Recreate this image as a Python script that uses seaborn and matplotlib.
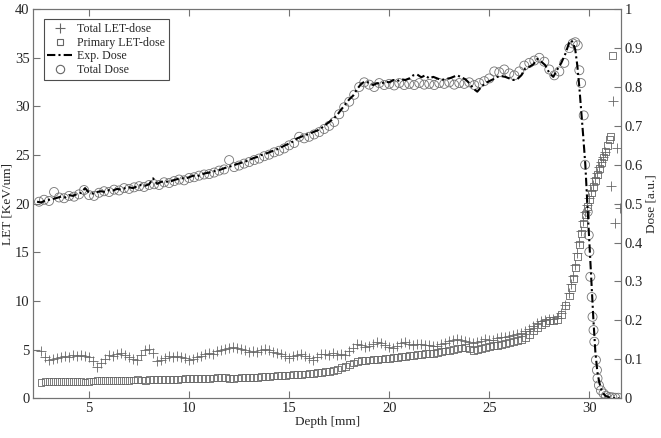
import numpy as np
import pandas as pd
import seaborn as sns
import matplotlib.pyplot as plt
from matplotlib.lines import Line2D

# LET data, depth bins of 0.2 mm, then the distal tail
let_depth = np.round(np.arange(2.6, 29.01, 0.2), 2)
let_total = [4.8, 4.2, 3.9, 4.0, 4.1, 4.2, 4.3, 4.2, 4.4, 4.3, 4.4, 4.3, 4.2, 3.8, 3.2, 3.6,
             4.0, 4.4, 4.3, 4.5, 4.6, 4.4, 4.2, 4.0, 3.9, 4.4, 4.9, 5.1, 4.6, 3.8, 3.9, 4.1,
             4.3, 4.2, 4.3, 4.2, 4.1, 3.9, 4.0, 4.2, 4.3, 4.5, 4.6, 4.5, 4.8, 5.0, 5.1, 5.2,
             5.3, 5.2, 5.1, 4.9, 4.7, 4.8, 4.7, 4.9, 5.1, 5.0, 4.7, 4.6, 4.5, 4.3, 4.1, 4.3,
             4.4, 4.5, 4.3, 4.1, 3.9, 4.2, 4.5, 4.5, 4.4, 4.6, 4.4, 4.5, 4.4, 4.8, 5.2, 5.6,
             5.5, 5.3, 5.4, 5.6, 5.8, 5.7, 5.5, 5.3, 5.2, 5.4, 5.7, 5.8, 5.6, 5.5, 5.6, 5.6,
             5.5, 5.5, 5.4, 5.4, 5.6, 5.7, 5.9, 6.0, 6.1, 6.0, 5.9, 5.8, 5.7, 5.8, 5.9, 6.1,
             6.0, 6.0, 6.2, 6.3, 6.3, 6.4, 6.5, 6.6, 6.7, 6.9, 7.1, 7.4, 7.7, 7.9, 8.0, 8.1,
             8.1, 8.2, 8.8, 9.6, 10.8]
let_primary = [1.65, 1.70, 1.72, 1.70, 1.72, 1.74, 1.72, 1.73, 1.75, 1.72, 1.68, 1.66, 1.72,
               1.76, 1.78, 1.80, 1.78, 1.82, 1.84, 1.82, 1.83, 1.85, 1.84, 1.86, 1.88, 1.87,
               1.85, 1.88, 1.90, 1.88, 1.92, 1.93, 1.95, 1.93, 1.94, 1.97, 2.02, 2.05, 2.02,
               1.98, 2.00, 2.03, 2.05, 2.08, 2.10, 2.12, 2.10, 2.06, 2.04, 2.07, 2.10, 2.12,
               2.14, 2.13, 2.16, 2.20, 2.24, 2.26, 2.28, 2.32, 2.35, 2.36, 2.38, 2.40, 2.42,
               2.45, 2.48, 2.52, 2.55, 2.60, 2.66, 2.72, 2.78, 2.85, 2.98, 3.12, 3.28, 3.45,
               3.62, 3.76, 3.84, 3.90, 3.92, 3.95, 3.98, 4.02, 4.06, 4.10, 4.15, 4.20, 4.26,
               4.32, 4.38, 4.42, 4.46, 4.50, 4.55, 4.58, 4.62, 4.70, 4.78, 4.85, 4.92, 4.98,
               5.08, 5.15, 5.20, 5.05, 4.92, 5.00, 5.12, 5.22, 5.32, 5.40, 5.45, 5.50, 5.60,
               5.70, 5.82, 5.92, 6.05, 6.25, 6.55, 6.90, 7.25, 7.60, 7.82, 7.95, 8.00, 8.05,
               8.60, 9.50, 10.5]

tail_total_depth = [29.1, 29.2, 29.3, 29.4, 29.5, 29.6, 29.7, 29.8, 29.9, 30.0, 30.1, 30.2,
                    30.3, 30.4, 30.5, 30.6, 30.7, 30.8, 31.1, 31.2, 31.3, 31.38, 31.55]
tail_total = [11.7, 12.6, 13.7, 14.9, 16.1, 17.2, 18.2, 19.1, 19.9, 20.6, 21.3, 21.9,
              22.6, 23.2, 23.8, 24.3, 24.8, 25.3, 21.8, 30.6, 18.0, 25.7, 19.6]
tail_primary_depth = [29.1, 29.2, 29.3, 29.4, 29.5, 29.6, 29.7, 29.8, 29.9, 30.0, 30.1, 30.2,
                      30.3, 30.4, 30.5, 30.6, 30.7, 30.8, 30.9, 31.0, 31.05, 31.16]
tail_primary = [11.4, 12.3, 13.4, 14.6, 15.8, 16.9, 18.0, 18.9, 19.7, 20.4, 21.1, 21.8,
                22.4, 23.0, 23.6, 24.2, 24.8, 25.4, 26.0, 26.6, 26.9, 35.2]

# experimental dose (line)
exp_depth = list(np.round(np.arange(2.4, 29.01, 0.2), 2)) + [29.1, 29.2, 29.3, 29.4, 29.5, 29.6,
             29.7, 29.8, 29.9, 30.0, 30.1, 30.2, 30.3, 30.4, 30.5, 30.6, 30.7, 30.8, 31.0, 31.2, 31.5]
exp_dose = [0.505, 0.503, 0.508, 0.510, 0.512, 0.515, 0.518, 0.516, 0.522, 0.520, 0.525, 0.528,
            0.540, 0.528, 0.526, 0.530, 0.532, 0.530, 0.535, 0.534, 0.538, 0.536, 0.540, 0.542,
            0.540, 0.545, 0.548, 0.546, 0.550, 0.565, 0.551, 0.556, 0.558, 0.555, 0.560, 0.563,
            0.566, 0.564, 0.568, 0.572, 0.570, 0.575, 0.578, 0.580, 0.583, 0.585, 0.588, 0.592,
            0.595, 0.598, 0.602, 0.605, 0.608, 0.612, 0.617, 0.620, 0.625, 0.628, 0.632, 0.636,
            0.640, 0.645, 0.650, 0.655, 0.660, 0.668, 0.672, 0.676, 0.680, 0.684, 0.688, 0.694,
            0.702, 0.710, 0.718, 0.728, 0.742, 0.755, 0.768, 0.778, 0.795, 0.808, 0.815, 0.810,
            0.805, 0.810, 0.808, 0.814, 0.812, 0.818, 0.815, 0.820, 0.818, 0.822, 0.830, 0.832,
            0.825, 0.830, 0.822, 0.826, 0.822, 0.818, 0.820, 0.822, 0.826, 0.830, 0.825, 0.820,
            0.810, 0.796, 0.788, 0.800, 0.810, 0.815, 0.820, 0.826, 0.828, 0.826, 0.822, 0.818,
            0.820, 0.830, 0.848, 0.852, 0.858, 0.872, 0.865, 0.856, 0.836, 0.826, 0.845, 0.862,
            0.885, 0.915,
            0.920, 0.912, 0.895, 0.855, 0.800, 0.735, 0.670, 0.600, 0.500, 0.405, 0.300, 0.205,
            0.120, 0.068, 0.040, 0.022, 0.012, 0.006, 0.002, 0.0, 0.0]

# simulated total dose (circles), 0.25 mm bins then finer bins in the fall-off
sim_depth = list(np.round(np.arange(2.5, 29.01, 0.25), 2)) + [29.17, 29.3, 29.42, 29.5, 29.59,
             29.72, 29.79, 29.92, 29.97, 30.0, 30.05, 30.12, 30.16, 30.21, 30.25, 30.33, 30.38,
             30.41, 30.48, 30.58, 30.71, 30.83, 31.0, 31.15, 31.3, 31.45]
sim_dose = [0.505, 0.510, 0.507, 0.530, 0.516, 0.514, 0.520, 0.518, 0.524, 0.535, 0.522, 0.520,
            0.528, 0.532, 0.530, 0.536, 0.534, 0.540, 0.538, 0.542, 0.545, 0.543, 0.548, 0.550,
            0.548, 0.555, 0.553, 0.558, 0.562, 0.560, 0.566, 0.568, 0.572, 0.575, 0.576, 0.580,
            0.585, 0.588, 0.612, 0.594, 0.598, 0.603, 0.607, 0.612, 0.616, 0.622, 0.626, 0.632,
            0.636, 0.642, 0.650, 0.656, 0.672, 0.668, 0.672, 0.678, 0.684, 0.692, 0.700, 0.710,
            0.730, 0.748, 0.762, 0.780, 0.800, 0.812, 0.806, 0.800, 0.810, 0.805, 0.808, 0.804,
            0.810, 0.805, 0.808, 0.805, 0.810, 0.806, 0.808, 0.805, 0.810, 0.808, 0.812, 0.806,
            0.810, 0.808, 0.812, 0.805, 0.810, 0.815, 0.822, 0.840, 0.838, 0.845, 0.835, 0.830,
            0.840, 0.855, 0.862, 0.868, 0.875, 0.865, 0.845, 0.830, 0.840, 0.862, 0.900,
            0.912, 0.915, 0.907, 0.843, 0.810, 0.727, 0.600, 0.479, 0.419, 0.376, 0.312, 0.260,
            0.209, 0.175, 0.145, 0.098, 0.072, 0.051, 0.033, 0.020, 0.012, 0.006, 0.003, 0.002,
            0.001, 0.001]

df_tot = pd.DataFrame({'depth': list(let_depth) + tail_total_depth, 'let': let_total + tail_total})
df_pri = pd.DataFrame({'depth': list(let_depth) + tail_primary_depth, 'let': let_primary + tail_primary})
df_exp = pd.DataFrame({'depth': exp_depth, 'dose': exp_dose})
df_sim = pd.DataFrame({'depth': sim_depth, 'dose': sim_dose})

sns.set_theme(style='ticks')
plt.rcParams['font.family'] = ['Liberation Serif', 'DejaVu Serif']
plt.rcParams['xtick.direction'] = 'in'
plt.rcParams['ytick.direction'] = 'in'

fig, ax = plt.subplots(figsize=(6.61, 4.38), dpi=100)
fig.subplots_adjust(left=0.05, right=0.94, top=0.979, bottom=0.091)
ax2 = ax.twinx()

grey = '0.4'
sns.scatterplot(data=df_tot, x='depth', y='let', marker='+', s=60, color=grey,
                linewidth=0.6, ax=ax, legend=False)
sns.scatterplot(data=df_pri, x='depth', y='let', marker='s', s=24, facecolor='none',
                edgecolor=grey, linewidth=0.6, ax=ax, legend=False)
sns.lineplot(data=df_exp, x='depth', y='dose', color='black', lw=1.5,
             linestyle=(0, (4, 1.5, 1, 1.5)), ax=ax2, legend=False)
sns.scatterplot(data=df_sim, x='depth', y='dose', marker='o', s=42, facecolor='none',
                edgecolor='0.45', linewidth=0.6, ax=ax2, legend=False)

ax.set_xlim(2.2, 31.6)
ax.set_ylim(0, 40)
ax2.set_ylim(0, 1)
ax.set_xticks([5, 10, 15, 20, 25, 30])
ax.set_yticks(np.arange(0, 41, 5))
ax2.set_yticks(np.round(np.arange(0, 1.01, 0.1), 1))
ax2.set_yticklabels(['0', '0.1', '0.2', '0.3', '0.4', '0.5', '0.6', '0.7', '0.8', '0.9', '1'])

ax.set_xlabel('Depth [mm]', fontsize=9.5, labelpad=1)
ax.set_ylabel('LET [KeV/um]', fontsize=9.5, labelpad=1)
ax2.set_ylabel('Dose [a.u.]', fontsize=9.5, labelpad=2)

for a in (ax, ax2):
    for sp in a.spines.values():
        sp.set_color('0.45')
        sp.set_linewidth(0.8)
    a.tick_params(labelsize=10.5, color='0.45', length=5, width=0.8, pad=2.5)
ax.tick_params(top=True, right=False)
ax2.tick_params(left=False, right=True)

handles = [
    Line2D([], [], marker='+', linestyle='none', color=grey, markersize=7, mew=0.8),
    Line2D([], [], marker='s', linestyle='none', markerfacecolor='none', markeredgecolor=grey,
           markersize=4.5, mew=0.8),
    Line2D([], [], color='black', lw=1.5, linestyle=(0, (4, 1.5, 1, 1.5))),
    Line2D([], [], marker='o', linestyle='none', markerfacecolor='none', markeredgecolor='0.4',
           markersize=6, mew=0.8),
]
labels = ['Total LET-dose', 'Primary LET-dose', 'Exp. Dose', 'Total Dose']
leg = ax2.legend(handles, labels, loc='upper left', bbox_to_anchor=(0.018, 0.974), fontsize=8.6,
                 frameon=True, fancybox=False, framealpha=1, edgecolor='0.3',
                 handlelength=2.2, handletextpad=0.3, borderpad=0.3, labelspacing=0.15,
                 borderaxespad=0)
leg.get_frame().set_linewidth(0.8)

fig.savefig('out.png', dpi=100)
